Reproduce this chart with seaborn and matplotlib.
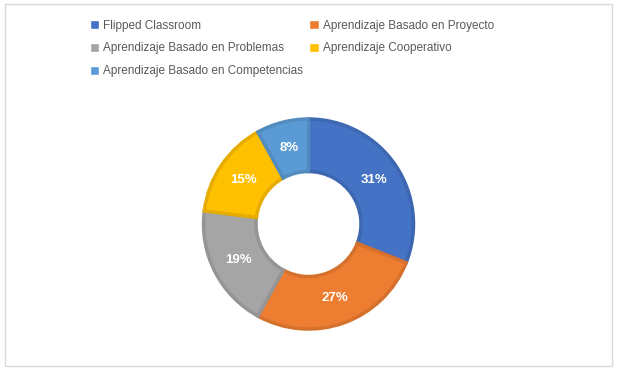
import matplotlib
matplotlib.use('Agg')
import matplotlib.pyplot as plt
import seaborn as sns
from matplotlib.patches import Rectangle
from matplotlib.colors import to_rgb

categories = ['Flipped Classroom', 'Aprendizaje Basado en Proyecto',
              'Aprendizaje Basado en Problemas', 'Aprendizaje Cooperativo',
              'Aprendizaje Basado en Competencias']
values = [31, 27, 19, 15, 8]
colors = ['#4472C4', '#ED7D31', '#A5A5A5', '#FFC000', '#5B9BD5']

sns.set_theme(style='white')
plt.rcParams['font.family'] = ['Liberation Sans', 'DejaVu Sans']

palette = sns.color_palette(colors)
edges = [tuple(c * 0.9 for c in to_rgb(col)) for col in colors]

fig = plt.figure(figsize=(6.17, 3.70), dpi=100)
fig.patches.append(Rectangle((0.008, 0.012), 0.984, 0.976, transform=fig.transFigure,
                             fill=False, edgecolor='#D9D9D9', linewidth=1))

ax = fig.add_axes([0.3128, 0.0824, 0.3744, 0.6243])
wedges, texts, autotexts = ax.pie(values, colors=palette, startangle=90, counterclock=False,
                                  autopct='%1.0f%%', pctdistance=0.75,
                                  wedgeprops=dict(width=0.5, linewidth=2.5))
for w, e in zip(wedges, edges):
    w.set_edgecolor(e)
for t in autotexts:
    t.set_color('white')
    t.set_fontweight('bold')
    t.set_fontsize(9.5)
ax.set_xlim(-1.1, 1.1)
ax.set_ylim(-1.1, 1.1)
ax.set_aspect('equal')

# legend filled row by row, like the original
order = [0, 2, 4, 1, 3]
handles = [Rectangle((0, 0), 1, 1, facecolor=colors[i]) for i in order]
labels = [categories[i] for i in order]
leg = fig.legend(handles, labels, ncol=2, loc='upper left', bbox_to_anchor=(0.128, 0.976),
                 frameon=False, fontsize=8.5, handlelength=0.8, handleheight=0.8,
                 handletextpad=0.35, columnspacing=0.5, labelspacing=0.93)
for t in leg.get_texts():
    t.set_color('#595959')

fig.savefig('out.png', dpi=100, facecolor='white')
